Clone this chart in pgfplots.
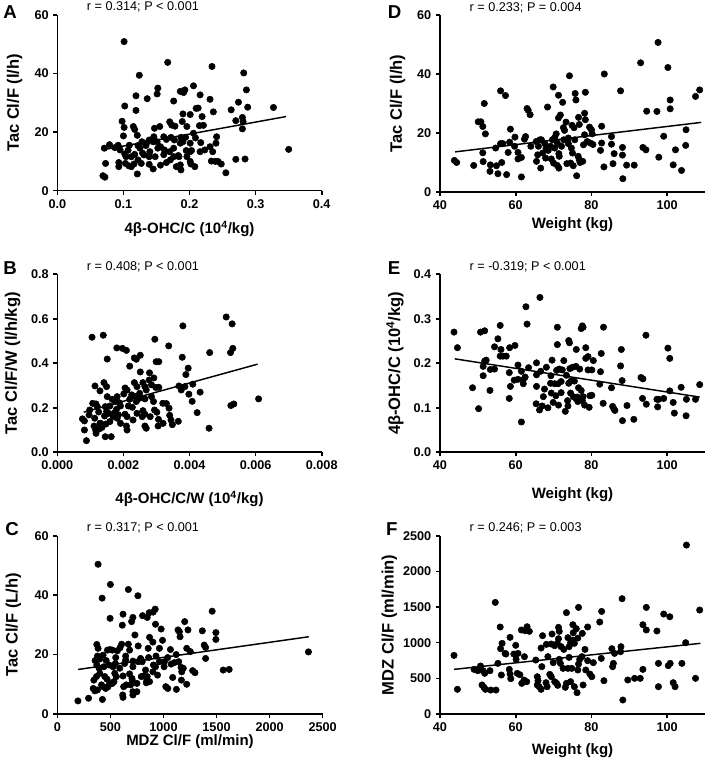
\documentclass[border=0pt]{standalone}
\usepackage{fontspec}
\setmainfont{Liberation Sans}
\usepackage{pgfplots}
\pgfplotsset{compat=1.18}
\pgfplotsset{
  panel/.style={
    scale only axis, axis lines=left, axis line style={-, line width=1.2pt},
    every tick/.style={line width=1.2pt, black}, major tick length=3pt, tick align=outside,
    tick label style={font=\bfseries\fontsize{9.5}{11}\selectfont},
    /pgf/number format/assume math mode=true,
    /pgf/number format/1000 sep={},
    xlabel style={font=\bfseries\fontsize{11.25}{13}\selectfont},
    ylabel style={font=\bfseries\fontsize{12.4}{14}\selectfont},
    clip=false, scaled ticks=false,
  },
  mydots/.style={only marks, mark=*, mark size=2.4pt, black, mark options={draw=black, fill=black}},
  fitline/.style={no marks, black, line width=1.1pt},
}
\newcommand{\stat}[2]{\node[anchor=base west, yshift=3pt, font=\fontsize{9.5}{11}\selectfont] at (axis description cs:#1,1) {#2};}
\newcommand{\plet}[3]{\node[anchor=base west, yshift=#2, inner sep=0pt, font=\bfseries\fontsize{14}{16}\selectfont] at (axis description cs:#1,1) {#3};}
\begin{document}
\begin{tikzpicture}
\useasboundingbox (0,0) rectangle (531.75pt,568.5pt);
% ---------------- A ----------------
\begin{axis}[panel, at={(43pt,425.5pt)}, anchor=south west, width=198.3pt, height=131.8pt,
  xmin=0, xmax=0.4, ymin=0, ymax=60, xtick={0,0.1,0.2,0.3,0.4}, ytick={0,20,40,60},
  xticklabel style={/pgf/number format/.cd, fixed, fixed zerofill, precision=1},
  xlabel={4β-OHC/C (10\textsuperscript{4}/kg)}, ylabel={Tac Cl/F (l/h)},
  xlabel style={at={(axis description cs:0.5,0)}, anchor=base, yshift=-32pt},
  ylabel style={at={(axis description cs:-0.162,0.5)}, anchor=center}]
\addplot[mydots] coordinates {(0.101,50.9)(0.167,43.8)(0.124,39.4)(0.234,42.4)(0.282,40.2)(0.119,32.4)(0.102,28.9)(0.136,31.4)(0.151,33.0)(0.152,35.0)(0.176,30.6)(0.186,33.9)(0.191,33.5)(0.193,34.4)(0.206,35.8)(0.216,32.7)(0.231,31.2)(0.274,30.2)(0.286,34.4)(0.288,28.5)(0.327,28.4)(0.263,27.6)(0.210,28.1)(0.236,26.9)(0.119,27.4)(0.098,23.7)(0.101,21.6)(0.115,21.9)(0.117,20.9)(0.100,18.7)(0.121,18.9)(0.170,23.5)(0.173,22.4)(0.178,22.0)(0.189,23.6)(0.190,26.2)(0.196,21.9)(0.201,26.0)(0.213,28.2)(0.219,25.3)(0.215,22.2)(0.221,22.3)(0.270,23.9)(0.280,25.0)(0.281,23.6)(0.280,21.1)(0.206,19.6)(0.209,18.0)(0.217,16.4)(0.241,18.4)(0.240,16.2)(0.147,21.3)(0.155,21.9)(0.146,18.4)(0.151,16.7)(0.161,18.4)(0.165,17.5)(0.172,18.2)(0.177,17.3)(0.187,18.2)(0.194,18.2)(0.186,16.2)(0.079,15.7)(0.071,14.5)(0.092,15.5)(0.109,15.5)(0.122,15.4)(0.128,16.7)(0.134,15.4)(0.139,17.3)(0.145,16.7)(0.107,13.8)(0.095,13.9)(0.102,12.5)(0.104,11.6)(0.112,11.6)(0.117,12.4)(0.129,12.8)(0.131,12.2)(0.139,11.6)(0.148,11.6)(0.152,14.5)(0.156,15.0)(0.161,12.3)(0.162,13.9)(0.170,13.3)(0.176,11.6)(0.183,12.0)(0.195,13.7)(0.201,13.3)(0.203,13.7)(0.231,15.0)(0.235,13.3)(0.233,10.1)(0.239,10.0)(0.243,10.0)(0.248,9.1)(0.270,10.7)(0.284,10.8)(0.073,9.3)(0.093,9.6)(0.093,8.2)(0.103,9.3)(0.108,8.5)(0.112,8.2)(0.116,9.1)(0.122,10.5)(0.127,9.3)(0.139,9.0)(0.145,7.4)(0.156,8.7)(0.165,9.6)(0.171,10.5)(0.180,8.2)(0.186,8.8)(0.187,7.1)(0.201,10.0)(0.202,9.1)(0.208,8.2)(0.255,6.1)(0.121,5.7)(0.069,5.1)(0.072,4.6)(0.350,14.1)(0.190,16.7)(0.201,16.2)(0.223,13.9)(0.216,13.3)(0.176,14.5)(0.140,13.3)(0.125,14.5)(0.135,16.2)(0.087,14.7)(0.184,11.6)(0.196,11.6)};
\addplot[fitline] coordinates {(0.07,14.0)(0.346,25.3)};
\stat{0.094}{r = 0.314; P < 0.001}
\plet{-0.205}{-2.5pt}{A}
\end{axis}
% ---------------- D ----------------
\begin{axis}[panel, at={(330pt,424.5pt)}, anchor=south west, width=198.75pt, height=132.75pt,
  xmin=40, xmax=110, ymin=0, ymax=60, xtick={40,60,80,100}, ytick={0,20,40,60},
  xlabel={Weight (kg)}, ylabel={Tac Cl/F (l/h)},
  xlabel style={at={(axis description cs:0.5,0)}, anchor=base, yshift=-27.75pt},
  ylabel style={at={(axis description cs:-0.160,0.5)}, anchor=center}]
\addplot[mydots] coordinates {(97.6,50.7)(93.0,43.8)(100.2,42.2)(83.4,40.0)(74.2,39.4)(87.7,34.3)(108.6,34.6)(107.5,32.4)(100.8,31.2)(100.8,28.2)(94.6,27.4)(97.3,27.3)(56.0,34.3)(57.3,32.7)(51.7,30.0)(69.9,35.6)(71.3,32.8)(72.4,30.4)(75.7,33.4)(75.9,31.2)(78.4,33.8)(68.4,28.8)(63.0,28.3)(63.3,27.7)(63.8,26.2)(50.1,23.8)(50.8,23.8)(51.3,22.2)(52.0,19.7)(58.6,21.3)(71.3,25.1)(71.8,26.1)(73.3,23.7)(76.6,25.3)(78.2,26.7)(78.4,24.5)(74.9,22.6)(75.4,21.8)(76.8,22.9)(79.5,22.0)(80.0,21.1)(80.2,19.7)(82.7,22.3)(72.6,21.8)(72.9,20.9)(70.7,19.7)(70.3,18.5)(66.8,17.7)(62.6,18.8)(62.3,17.9)(59.8,18.6)(58.4,16.9)(56.0,16.4)(56.6,16.4)(54.7,14.9)(51.3,13.3)(58.0,13.4)(59.7,15.5)(60.6,13.4)(61.5,11.7)(60.6,11.2)(51.4,10.3)(43.8,10.7)(44.4,10.0)(48.9,9.0)(53.3,9.2)(54.9,8.9)(56.3,10.0)(53.2,7.0)(55.3,6.2)(57.6,5.9)(61.5,5.1)(66.6,8.1)(65.5,10.4)(65.8,12.6)(66.0,15.5)(65.4,17.1)(67.7,16.4)(68.0,14.8)(68.6,14.1)(69.2,15.5)(67.1,13.2)(67.9,11.5)(69.4,11.2)(70.3,14.9)(71.0,16.6)(71.4,13.0)(71.5,12.1)(70.0,9.8)(71.0,9.0)(71.4,8.1)(72.7,17.7)(73.9,18.3)(73.9,16.4)(74.7,14.9)(75.0,13.2)(73.5,9.6)(74.5,9.8)(75.2,8.9)(76.1,5.5)(76.5,12.1)(76.8,10.9)(77.0,10.0)(77.7,10.4)(77.9,16.0)(78.9,17.1)(79.7,16.6)(80.4,16.1)(82.7,16.6)(82.4,14.1)(83.3,8.5)(85.3,18.8)(85.3,16.2)(86.0,13.0)(85.7,9.6)(88.2,15.1)(88.2,12.5)(88.3,4.5)(89.3,9.1)(91.3,9.1)(93.6,15.1)(94.4,14.3)(99.1,18.9)(97.8,11.8)(102.2,14.3)(101.6,9.2)(103.8,7.3)(104.9,15.8)(105.0,21.1)(78.2,19.4)(64.0,15.5)(72.1,15.5)(69.7,17.7)(66.4,17.7)(75.6,17.7)};
\addplot[fitline] coordinates {(44.0,13.6)(109.0,23.6)};
\stat{0.094}{r = 0.233; P = 0.004}
\plet{-0.198}{-2.5pt}{D}
\end{axis}
% ---------------- B ----------------
\begin{axis}[panel, at={(43pt,229.3pt)}, anchor=south west, width=198.3pt, height=133.5pt,
  xmin=0, xmax=0.008, ymin=0, ymax=0.8, xtick={0,0.002,0.004,0.006,0.008}, ytick={0,0.2,0.4,0.6,0.8},
  xticklabel style={/pgf/number format/.cd, fixed, fixed zerofill, precision=3},
  yticklabel style={/pgf/number format/.cd, fixed, fixed zerofill, precision=1},
  xlabel={4β-OHC/C/W (10\textsuperscript{4}/kg)}, ylabel={Tac Cl/F/W (l/h/kg)},
  xlabel style={at={(axis description cs:0.5,0)}, anchor=base, yshift=-38.5pt},
  ylabel style={at={(axis description cs:-0.169,0.5)}, anchor=center}]
\addplot[mydots] coordinates {(0.00511,0.608)(0.00529,0.577)(0.00380,0.568)(0.00105,0.517)(0.00139,0.526)(0.00295,0.508)(0.00180,0.469)(0.00197,0.467)(0.00209,0.458)(0.00337,0.478)(0.00531,0.467)(0.00524,0.448)(0.00461,0.448)(0.00151,0.419)(0.00233,0.424)(0.00239,0.418)(0.00251,0.436)(0.00219,0.387)(0.00378,0.427)(0.00299,0.407)(0.00307,0.407)(0.00396,0.378)(0.00389,0.349)(0.00251,0.361)(0.00279,0.357)(0.00292,0.334)(0.00278,0.325)(0.00114,0.298)(0.00129,0.276)(0.00141,0.313)(0.00149,0.295)(0.00205,0.289)(0.00211,0.280)(0.00233,0.313)(0.00241,0.295)(0.00259,0.313)(0.00265,0.295)(0.00285,0.303)(0.00269,0.280)(0.00298,0.291)(0.00307,0.292)(0.00368,0.298)(0.00375,0.280)(0.00386,0.295)(0.00410,0.306)(0.00398,0.261)(0.00432,0.270)(0.00408,0.229)(0.00423,0.178)(0.00459,0.108)(0.00525,0.210)(0.00534,0.217)(0.00609,0.240)(0.00319,0.220)(0.00330,0.219)(0.00338,0.198)(0.00340,0.166)(0.00344,0.145)(0.00348,0.124)(0.00366,0.139)(0.00294,0.190)(0.00301,0.180)(0.00306,0.148)(0.00305,0.118)(0.00285,0.250)(0.00291,0.228)(0.00249,0.265)(0.00237,0.250)(0.00225,0.258)(0.00201,0.262)(0.00181,0.250)(0.00166,0.238)(0.00175,0.228)(0.00187,0.223)(0.00191,0.208)(0.00215,0.208)(0.00219,0.238)(0.00239,0.228)(0.00249,0.243)(0.00265,0.240)(0.00076,0.150)(0.00082,0.141)(0.00082,0.100)(0.00088,0.052)(0.00113,0.153)(0.00117,0.217)(0.00121,0.205)(0.00125,0.181)(0.00111,0.118)(0.00116,0.100)(0.00117,0.085)(0.00127,0.105)(0.00135,0.112)(0.00131,0.130)(0.00143,0.163)(0.00149,0.183)(0.00145,0.205)(0.00159,0.208)(0.00155,0.175)(0.00147,0.127)(0.00169,0.160)(0.00173,0.178)(0.00179,0.193)(0.00181,0.153)(0.00185,0.168)(0.00191,0.130)(0.00145,0.070)(0.00163,0.070)(0.00205,0.171)(0.00211,0.160)(0.00209,0.118)(0.00211,0.100)(0.00227,0.202)(0.00241,0.175)(0.00259,0.187)(0.00265,0.171)(0.00257,0.160)(0.00265,0.118)(0.00269,0.108)(0.00281,0.160)(0.00096,0.168)(0.00107,0.220)(0.00098,0.190)(0.00159,0.138)(0.00151,0.250)(0.00129,0.130)(0.00229,0.145)(0.00320,0.130)};
\addplot[fitline] coordinates {(0.00080,0.180)(0.00606,0.396)};
\stat{0.094}{r = 0.408; P < 0.001}
\plet{-0.205}{0pt}{B}
\end{axis}
% ---------------- E ----------------
\begin{axis}[panel, at={(330pt,229.3pt)}, anchor=south west, width=198.75pt, height=133.5pt,
  xmin=40, xmax=110, ymin=0, ymax=0.4, xtick={40,60,80,100}, ytick={0,0.1,0.2,0.3,0.4},
  yticklabel style={/pgf/number format/.cd, fixed, fixed zerofill, precision=1},
  xlabel={Weight (kg)}, ylabel={4β-OHC/C (10\textsuperscript{4}/kg)},
  xlabel style={at={(axis description cs:0.5,0)}, anchor=base, yshift=-34.5pt},
  ylabel style={at={(axis description cs:-0.170,0.5)}, anchor=center}]
\addplot[mydots] coordinates {(66.4,0.348)(62.7,0.327)(63.0,0.288)(43.7,0.270)(44.6,0.235)(50.7,0.270)(51.8,0.273)(55.9,0.285)(55.3,0.255)(54.4,0.237)(56.1,0.231)(55.9,0.216)(56.6,0.216)(57.5,0.216)(58.4,0.235)(59.8,0.240)(71.0,0.281)(71.0,0.242)(77.6,0.284)(77.8,0.281)(77.3,0.278)(83.2,0.281)(74.0,0.251)(74.2,0.246)(76.0,0.231)(78.5,0.235)(79.1,0.215)(80.5,0.206)(82.6,0.222)(87.9,0.231)(94.4,0.263)(100.2,0.234)(100.7,0.211)(87.7,0.194)(88.1,0.161)(93.1,0.168)(93.6,0.165)(82.4,0.181)(82.2,0.153)(85.3,0.145)(93.5,0.121)(94.5,0.108)(97.3,0.119)(97.8,0.119)(99.1,0.121)(97.5,0.102)(100.7,0.138)(101.6,0.112)(101.9,0.088)(103.7,0.146)(105.1,0.119)(105.0,0.082)(107.5,0.119)(108.6,0.152)(89.4,0.105)(91.2,0.074)(88.2,0.071)(85.6,0.103)(85.9,0.098)(86.2,0.094)(83.1,0.110)(48.6,0.145)(50.2,0.098)(51.4,0.193)(51.8,0.205)(51.4,0.172)(52.2,0.207)(53.3,0.186)(53.2,0.139)(54.4,0.187)(58.3,0.179)(58.6,0.148)(58.3,0.121)(59.6,0.162)(60.6,0.164)(60.6,0.196)(61.5,0.182)(62.0,0.163)(62.0,0.154)(62.5,0.169)(61.5,0.068)(63.4,0.190)(65.5,0.201)(65.5,0.174)(65.5,0.148)(65.4,0.109)(66.3,0.095)(67.0,0.104)(66.6,0.182)(67.3,0.125)(67.6,0.142)(68.5,0.100)(68.1,0.191)(69.3,0.172)(69.2,0.155)(69.4,0.133)(69.6,0.207)(69.9,0.112)(70.3,0.154)(70.6,0.127)(70.8,0.184)(71.2,0.154)(71.5,0.187)(71.3,0.106)(72.0,0.134)(72.3,0.185)(72.7,0.206)(73.1,0.092)(73.4,0.173)(73.7,0.116)(73.8,0.104)(74.0,0.155)(74.3,0.188)(74.5,0.133)(74.7,0.161)(75.0,0.191)(75.2,0.125)(75.5,0.160)(75.9,0.193)(76.3,0.124)(76.4,0.114)(76.6,0.145)(76.9,0.187)(77.3,0.139)(77.8,0.125)(78.2,0.106)(78.5,0.211)(79.1,0.185)(79.6,0.127)(79.4,0.101)(80.1,0.128)(80.1,0.185)(77.6,0.116)(75.9,0.121)(72.0,0.159)};
\addplot[fitline] coordinates {(43.9,0.210)(108.6,0.124)};
\stat{0.094}{r = -0.319; P < 0.001}
\plet{-0.198}{0pt}{E}
\end{axis}
% ---------------- C ----------------
\begin{axis}[panel, at={(43pt,33pt)}, anchor=south west, width=199pt, height=133.7pt,
  xmin=0, xmax=2500, ymin=0, ymax=60, xtick={0,500,1000,1500,2000,2500}, ytick={0,20,40,60},
  xlabel={MDZ Cl/F (ml/min)}, ylabel={Tac Cl/F (L/h)},
  xlabel style={at={(axis description cs:0.5,0)}, anchor=base, yshift=-23.25pt},
  ylabel style={at={(axis description cs:-0.166,0.5)}, anchor=center}]
\addplot[mydots] coordinates {(384,50.4)(500,43.6)(669,41.9)(759,39.8)(422,39.0)(497,32.2)(619,33.6)(712,32.5)(803,33.1)(847,32.5)(866,34.1)(903,34.3)(922,35.3)(1459,34.6)(612,29.9)(700,31.1)(925,30.2)(978,28.6)(1200,31.1)(1137,28.3)(1150,27.7)(1231,28.3)(1366,28.0)(1494,27.4)(1494,25.1)(731,26.6)(1156,26.0)(869,25.8)(991,24.8)(900,24.2)
(372,23.4)(384,22.1)(606,23.5)(669,23.5)(762,22.9)(856,22.1)(962,22.1)(1066,21.7)(1219,22.1)(1384,23.2)(1397,22.4)(1253,21.0)(2366,20.9)(378,19.5)(431,19.8)(472,21.5)(497,21.7)(519,21.5)(566,21.3)(591,22.3)(644,19.5)(681,21.5)(712,17.8)(791,18.2)(784,18.7)
(372,16.5)(394,15.4)(438,15.9)(488,16.5)(525,15.9)(547,17.0)(588,15.4)(634,17.0)(644,18.2)(712,15.9)(762,17.6)(800,17.6)(831,14.8)(906,16.5)(925,15.9)(962,17.6)(1006,15.9)(1009,17.6)(1072,16.8)(1103,17.3)(1144,17.6)(1166,15.7)(1187,15.4)(1397,18.7)
(344,11.4)(369,12.6)(400,13.7)(447,12.6)(469,11.7)(541,13.7)(556,12.6)(619,12.8)(681,13.5)(703,12.0)(791,12.6)(813,12.8)(847,12.6)(844,11.4)(900,14.2)(944,13.1)(1087,12.3)(1169,11.4)(1172,14.2)(1275,14.6)(1297,13.9)(1563,14.8)(1619,15.0)
(194,4.4)(294,5.3)(425,4.9)(616,6.4)(619,5.6)(712,6.4)(712,7.5)(750,7.5)(338,8.6)(353,7.8)(378,8.1)(416,9.8)(431,9.2)(456,8.6)(478,9.2)(494,10.3)(519,10.3)(534,10.9)(625,9.2)(650,9.8)(691,9.8)(706,11.4)(750,10.3)(838,10.5)(869,10.9)(1022,9.2)(1041,8.6)(1122,8.3)(1219,10.0)
(356,18.0)(400,18.5)(460,18.0)(550,19.0)(860,19.0)(930,19.5)(1040,19.0)(1120,20.0)};
\addplot[fitline] coordinates {(197,15.0)(2369,26.0)};
\stat{0.094}{r = 0.317; P < 0.001}
\plet{-0.197}{0pt}{C}
\end{axis}
% ---------------- F ----------------
\begin{axis}[panel, at={(330pt,33pt)}, anchor=south west, width=198.75pt, height=133.7pt,
  xmin=40, xmax=110, ymin=0, ymax=2500, xtick={40,60,80,100}, ytick={0,500,1000,1500,2000,2500},
  xlabel={Weight (kg)}, ylabel={MDZ Cl/F (ml/min)},
  xlabel style={at={(axis description cs:0.5,0)}, anchor=base, yshift=-30pt},
  ylabel style={at={(axis description cs:-0.191,0.5)}, anchor=center}]
\addplot[mydots] coordinates {(105.1,2369)(88.1,1617)(54.6,1565)(76.6,1495)(73.4,1421)(82.7,1439)(94.5,1495)(108.6,1458)(99.1,1402)(100.7,1364)(93.6,1252)(94.5,1178)(97.3,1164)(82.2,1290)(79.0,1220)(75.1,1252)(76.0,1196)(75.2,1140)(77.6,1131)(71.3,1215)(71.5,1159)(63.0,1224)(61.5,1178)(62.5,1168)(63.6,1159)(55.9,1220)(58.5,1075)(67.1,1098)(69.6,1122)(73.8,1070)(71.3,1056)(56.4,991)(60.0,963)(60.6,850)(59.5,841)(57.2,850)(56.0,916)(62.3,804)(66.7,925)(68.1,977)(69.4,981)(70.3,958)(71.0,991)(72.0,944)(72.7,906)(74.1,944)(74.5,1000)(75.0,1037)(75.5,991)(76.4,1065)(78.3,906)(85.4,916)(86.1,850)(87.8,944)(87.7,874)(43.7,822)(44.6,346)(49.0,626)(50.0,607)(50.7,673)(51.4,607)(51.8,570)(51.1,407)(51.6,374)(52.0,346)(53.2,607)(53.4,336)(54.8,336)(55.3,710)(56.2,547)(57.4,841)(58.3,626)(58.5,561)(58.7,495)(60.1,766)(60.4,570)(61.1,551)(61.6,430)(62.2,477)(62.9,453)(65.3,757)(65.7,523)(65.9,467)(65.7,407)(66.2,383)(66.7,346)(66.9,664)(68.0,439)(68.3,383)(68.5,804)(69.0,556)(69.4,523)(69.9,720)(70.3,453)(70.8,430)(71.1,402)(71.5,766)(71.8,710)(72.5,640)(73.1,374)(73.4,430)(73.8,640)(74.1,794)(74.5,453)(74.8,640)(75.5,383)(76.2,299)(76.4,617)(76.6,701)(76.9,766)(77.5,804)(77.8,407)(78.5,617)(79.0,748)(79.6,561)(80.1,523)(80.5,720)(82.6,780)(83.3,467)(85.6,664)(85.8,710)(88.3,196)(89.6,477)(91.4,500)(92.9,500)(93.6,626)(97.7,383)(97.7,710)(100.3,678)(100.8,710)(101.6,439)(102.1,383)(103.9,710)(104.9,1000)(107.5,500)};
\addplot[fitline] coordinates {(43.7,626)(108.8,991)};
\stat{0.094}{r = 0.246; P = 0.003}
\plet{-0.204}{0pt}{F}
\end{axis}
\end{tikzpicture}
\end{document}
